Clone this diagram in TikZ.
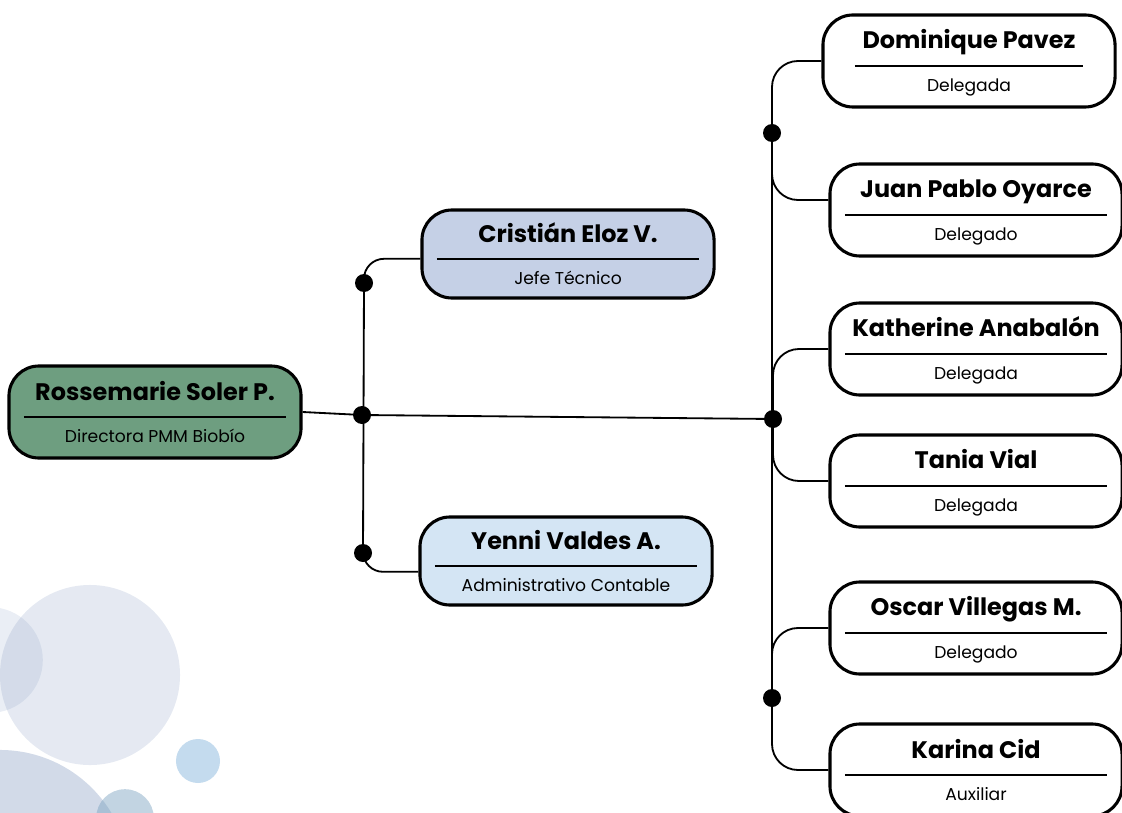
\documentclass[tikz,border=0pt]{standalone}
\usepackage{fontspec}
\setmainfont{Poppins}

\definecolor{verde}{RGB}{110,158,128}
\definecolor{lila}{RGB}{197,208,230}
\definecolor{celeste}{RGB}{212,229,244}
\definecolor{burbuja}{RGB}{115,140,185}
\definecolor{burbujaazul}{RGB}{100,160,210}
\definecolor{burbujagris}{RGB}{120,160,190}

% name, rule, position
\newcommand{\ficha}[3][6.55cm]{%
  \vbox{\hsize=7cm
    \hbox to \hsize{\hfil\fontsize{17}{20}\selectfont\bfseries\vrule width 0pt height 16pt depth 5pt #2\hfil}
    \nointerlineskip\vskip 6.6pt
    \hbox to \hsize{\hfil\vrule width #1 height 1.2pt\hfil}
    \nointerlineskip\vskip 7.2pt
    \hbox to \hsize{\hfil\fontsize{12.2}{14}\selectfont\vrule width 0pt height 10pt depth 3pt #3\hfil}}}

\begin{document}
\begin{tikzpicture}[x=0.025cm,y=-0.025cm]

\tikzstyle{caja}=[draw,line width=2.2pt,rounded corners=0.75cm,minimum width=7.3cm,minimum height=2.3cm,inner sep=0pt,fill=white];
\tikzstyle{punto}=[circle,fill=black,minimum size=0.45cm,inner sep=0pt];
\tikzstyle{conector}=[line width=1.3pt];

\useasboundingbox (0,0) rectangle (1122,813);
\clip (0,0) rectangle (1122,813);

% Bubbles in the lower left corner
\fill[burbuja,fill opacity=.19] (90,675) circle (2.25cm);
\fill[burbuja,fill opacity=.15] (-10,660) circle (1.32cm);
\fill[burbuja,fill opacity=.32] (0,880) circle (3.25cm);
\fill[burbujaazul,fill opacity=.38] (198,761) circle (0.55cm);
\fill[burbujagris,fill opacity=.45] (125,818) circle (0.72cm);

% Draw the boxes
\node[caja,fill=verde] (dir) at (155,412) {\ficha{Rossemarie Soler P.}{Directora PMM Biobío}};
\node[caja,fill=lila,minimum height=2.2cm] (jefe) at (568,254) {\ficha{Cristián Eloz V.}{Jefe Técnico}};
\node[caja,fill=celeste,minimum height=2.2cm] (adm) at (566,561) {\ficha{Yenni Valdes A.}{Administrativo Contable}};

\node[caja] (del1) at (969,61) {\ficha[5.7cm]{Dominique Pavez}{Delegada}};
\node[caja] (del2) at (976,210) {\ficha{Juan Pablo Oyarce}{Delegado}};
\node[caja] (del3) at (976,349) {\ficha{Katherine Anabalón}{Delegada}};
\node[caja] (del4) at (976,481) {\ficha{Tania Vial}{Delegada}};
\node[caja] (del5) at (976,628) {\ficha{Oscar Villegas M.}{Delegado}};
\node[caja] (del6) at (976,770) {\ficha{Karina Cid}{Auxiliar}};

% Junction points
\node[punto] (j1) at (364,283) {};
\node[punto] (j2) at (362,415) {};
\node[punto] (j3) at (363,553) {};
\node[punto] (j4) at (772,133) {};
\node[punto] (j5) at (773,419) {};
\node[punto] (j6) at (772,698) {};

% Links between the boxes
\draw[conector] (dir.east) -- (j2.center) -- (j5.center);
\draw[conector] (j1.center) -- (j3.center);
\draw[conector,rounded corners=0.5cm] ([yshift=-0.12cm]jefe.west) -| (j1.center);
\draw[conector,rounded corners=0.5cm] (j3.center) |- ([yshift=-0.27cm]adm.west);
\draw[conector] (j4.center) -- (j6.center);
\draw[conector,rounded corners=0.65cm] (del1.west) -| (j4.center);
\draw[conector,rounded corners=0.65cm] (j4.center) |- ([yshift=0.25cm]del2.west);
\draw[conector,rounded corners=0.65cm] (j5.center) |- (del3.west);
\draw[conector,rounded corners=0.65cm] (j5.center) |- (del4.west);
\draw[conector,rounded corners=0.65cm] (j6.center) |- (del5.west);
\draw[conector,rounded corners=0.65cm] (j6.center) |- (del6.west);

\end{tikzpicture}
\end{document}
